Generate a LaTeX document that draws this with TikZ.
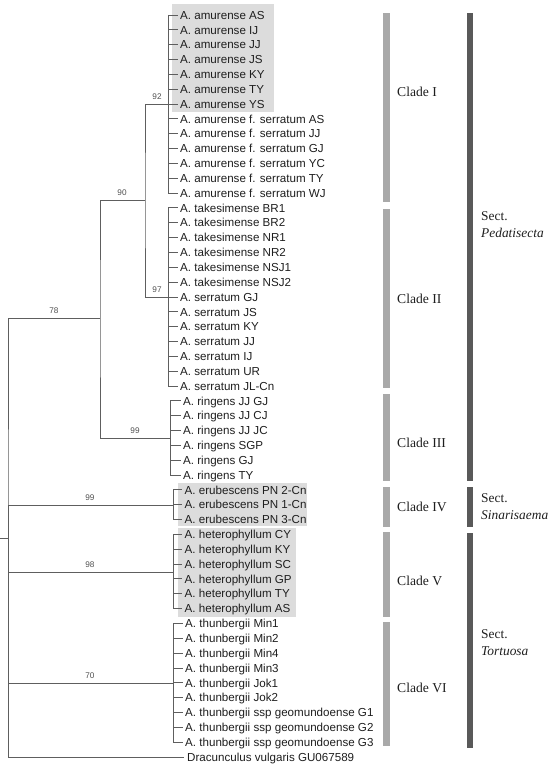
\documentclass[tikz,border=0pt]{standalone}
\usepackage{fontspec}
\setmainfont{Liberation Serif}
\setsansfont{Liberation Sans}
\begin{document}
\begin{tikzpicture}[x=1pt,y=-1pt,
  branch/.style={draw=treegray,line width=0.9pt},
  leaf/.style={anchor=west,inner sep=0pt,text height=8.4pt,text depth=0pt,
    font=\sffamily\fontsize{11.6}{12}\selectfont,text=leafcol},
  boot/.style={inner sep=0pt,font=\sffamily\fontsize{8.2}{9}\selectfont,text=bootcol},
  hibox/.style={fill=hilite,draw=none},
  cladebar/.style={fill=cladecol,draw=none},
  sectbar/.style={fill=sectcol,draw=none},
  cladelab/.style={anchor=west,inner sep=0pt,font=\fontsize{13.6}{15}\selectfont,text=labcol},
  sectlab/.style={anchor=north west,inner sep=0pt,align=left,
    font=\fontsize{13.4}{17}\selectfont,text=labcol}]
\definecolor{treegray}{HTML}{5E5E5E}
\definecolor{leafcol}{HTML}{1E1E1E}
\definecolor{bootcol}{HTML}{505050}
\definecolor{hilite}{HTML}{DCDCDC}
\definecolor{cladecol}{HTML}{A9A9A9}
\definecolor{sectcol}{HTML}{595959}
\definecolor{labcol}{HTML}{1E1E1E}
\useasboundingbox (0,0) rectangle (553,765);

% highlight boxes
\fill[hibox] (172,4) rectangle (274,112);
\fill[hibox] (178,483) rectangle (307,525.5);
\fill[hibox] (178,527.5) rectangle (296,617);

% leaves
\def\rowy#1{15+#1*14.84}
\foreach \t [count=\i from 0] in {A. amurense AS,A. amurense IJ,A. amurense JJ,A. amurense JS,A. amurense KY,A. amurense TY,A. amurense YS,A. amurense f. serratum AS,A. amurense f. serratum JJ,A. amurense f. serratum GJ,A. amurense f. serratum YC,A. amurense f. serratum TY,A. amurense f. serratum WJ,A. takesimense BR1,A. takesimense BR2,A. takesimense NR1,A. takesimense NR2,A. takesimense NSJ1,A. takesimense NSJ2,A. serratum GJ,A. serratum JS,A. serratum KY,A. serratum JJ,A. serratum IJ,A. serratum UR,A. serratum JL-Cn}
  \node[leaf] (L\i) at (180,{15+\i*14.84}) {\t};
\foreach \t [count=\i from 26] in {A. ringens JJ GJ,A. ringens JJ CJ,A. ringens JJ JC,A. ringens SGP,A. ringens GJ,A. ringens TY}
  \node[leaf] (L\i) at (183,{15+\i*14.84}) {\t};
\foreach \t [count=\i from 32] in {A. erubescens PN 2-Cn,A. erubescens PN 1-Cn,A. erubescens PN 3-Cn,A. heterophyllum CY,A. heterophyllum KY,A. heterophyllum SC,A. heterophyllum GP,A. heterophyllum TY,A. heterophyllum AS}
  \node[leaf] (L\i) at (184.5,{15+\i*14.84}) {\t};
\foreach \t [count=\i from 41] in {A. thunbergii Min1,A. thunbergii Min2,A. thunbergii Min4,A. thunbergii Min3,A. thunbergii Jok1,A. thunbergii Jok2,A. thunbergii ssp geomundoense G1,A. thunbergii ssp geomundoense G2,A. thunbergii ssp geomundoense G3}
  \node[leaf] (L\i) at (185,{15+\i*14.84}) {\t};
\node[leaf] (L50) at (187,{15+50*14.84}) {Dracunculus vulgaris GU067589};

% internal nodes
\coordinate (nI) at (168,104);
\coordinate (nII) at (168,297);
\coordinate (nIII) at (170,438);
\coordinate (nIV) at (173,505);
\coordinate (nV) at (173,572);
\coordinate (nVI) at (173,683);
\coordinate (n90) at (145,200);
\coordinate (n78) at (100,318);
\coordinate (root) at (8,538);
\coordinate (stub) at (0,538);

% clade verticals and leaf ticks
\foreach \c/\a/\b in {nI/0/12,nII/13/25,nIII/26/31,nIV/32/34,nV/35/40,nVI/41/49}{
  \draw[branch] (\c |- L\a.west) -- (\c |- L\b.west);
  \foreach \k in {\a,...,\b}
    \draw[branch] (\c |- L\k.west) -- ([xshift=-2.5pt]L\k.west);
}

% backbone
\draw[branch] (nI) -| (n90) |- (nII);
\draw[branch] (n90) -| (n78) |- (nIII);
\draw[branch] (n78) -| (root) |- ([xshift=-3pt]L50.west);
\draw[branch] (root) |- (nIV);
\draw[branch] (root) |- (nV);
\draw[branch] (root) |- (nVI);
\draw[branch] (stub) -- (root);

% bootstrap values
\node[boot] at (157,97) {92};
\node[boot] at (122,193) {90};
\node[boot] at (157,290) {97};
\node[boot] at (54,311) {78};
\node[boot] at (135,431) {99};
\node[boot] at (90,497.5) {99};
\node[boot] at (90,564.5) {98};
\node[boot] at (90,676) {70};

% clade bars
\fill[cladebar] (383,13) rectangle (390,202);
\fill[cladebar] (383,209) rectangle (390,388);
\fill[cladebar] (383,394) rectangle (390,481);
\fill[cladebar] (383,487) rectangle (390,527);
\fill[cladebar] (383,532) rectangle (390,617);
\fill[cladebar] (383,622) rectangle (390,746);

\node[cladelab] (cI) at (397,92) {Clade I};
\node[cladelab] (cII) at (397,299) {Clade II};
\node[cladelab] (cIII) at (397,443) {Clade III};
\node[cladelab] (cIV) at (397,507) {Clade IV};
\node[cladelab] (cV) at (397,581) {Clade V};
\node[cladelab] (cVI) at (397,688) {Clade VI};

% section bars
\fill[sectbar] (466.5,13) rectangle (473,481);
\fill[sectbar] (466.5,487) rectangle (473,527);
\fill[sectbar] (466.5,533) rectangle (473,748);

\node[sectlab] (sP) at (481,211) {Sect.\\\textit{Pedatisecta}};
\node[sectlab] (sS) at (481,493) {Sect.\\\textit{Sinarisaema}};
\node[sectlab] (sT) at (481,629) {Sect.\\\textit{Tortuosa}};
\end{tikzpicture}
\end{document}
